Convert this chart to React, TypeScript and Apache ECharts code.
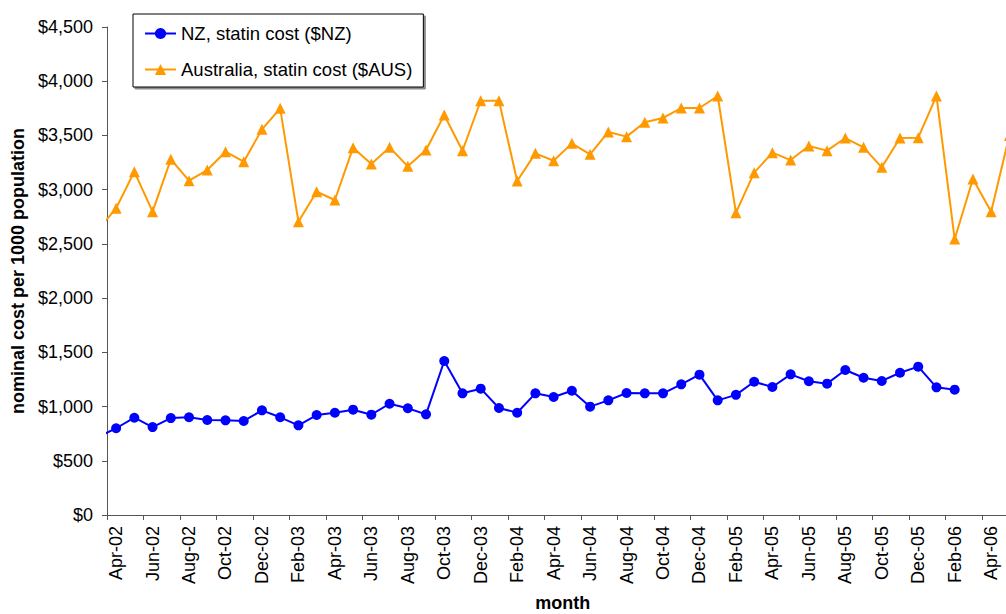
import React, { useEffect, useRef } from "react";
import * as echarts from "echarts";

// Months from Mar-02 (partly off the left edge of the axis) to May-06
const monthLabels = [
  "Mar-02", "Apr-02", "May-02", "Jun-02", "Jul-02", "Aug-02", "Sep-02", "Oct-02", "Nov-02", "Dec-02",
  "Jan-03", "Feb-03", "Mar-03", "Apr-03", "May-03", "Jun-03", "Jul-03", "Aug-03", "Sep-03", "Oct-03", "Nov-03", "Dec-03",
  "Jan-04", "Feb-04", "Mar-04", "Apr-04", "May-04", "Jun-04", "Jul-04", "Aug-04", "Sep-04", "Oct-04", "Nov-04", "Dec-04",
  "Jan-05", "Feb-05", "Mar-05", "Apr-05", "May-05", "Jun-05", "Jul-05", "Aug-05", "Sep-05", "Oct-05", "Nov-05", "Dec-05",
  "Jan-06", "Feb-06", "Mar-06", "Apr-06", "May-06",
];

const nzCost = [
  720, 800, 897, 811, 894, 901, 876, 873, 867, 965,
  901, 827, 922, 943, 971, 925, 1026, 984, 928, 1420, 1122, 1165,
  987, 943, 1122, 1088, 1146, 999, 1057, 1125, 1122, 1122, 1205, 1294,
  1057, 1108, 1229, 1180, 1297, 1233, 1211, 1337, 1266, 1236, 1312, 1368,
  1177, 1156,
];

const ausCost = [
  2630, 2828, 3166, 2797, 3280, 3083, 3181, 3350, 3258, 3556,
  3750, 2705, 2981, 2905, 3387, 3237, 3390, 3215, 3366, 3688, 3359, 3820,
  3820, 3080, 3335, 3267, 3427, 3326, 3532, 3489, 3621, 3661, 3753, 3753,
  3864, 2788, 3157, 3341, 3273, 3403, 3360, 3476, 3390, 3206, 3476, 3479,
  3864, 2545, 3098, 2797, 3500,
];

const seriesNames = ["NZ, statin cost ($NZ)", "Australia, statin cost ($AUS)"];
const yTicks = { min: 0, max: 4500, step: 500 };

const FONT = "'Liberation Sans', Arial, Helvetica, sans-serif";
const AXIS_COLOR = "#555";

export default function App() {
  const ref = useRef<HTMLDivElement>(null);

  useEffect(() => {
    document.body.style.margin = "0";
    document.body.style.overflow = "hidden";
    if (!ref.current) return;
    const chart = echarts.init(ref.current, undefined, { renderer: "svg" });

    // x coordinate: Apr-02 = 0 (monthLabels index - 1)
    const toPoints = (arr: number[]) => arr.map((v, i) => [i - 1, v]);
    const xMin = -0.5;
    const xMax = 49.5;

    chart.setOption({
      animation: false,
      backgroundColor: "#fff",
      grid: {
        left: 107,
        top: 27,
        right: 11.5,
        bottom: 99,
        containLabel: false,
        outerBoundsMode: "none",
      },
      legend: {
        orient: "vertical",
        left: 133,
        top: 14,
        padding: [10, 11, 8, 11],
        itemWidth: 31,
        itemHeight: 14,
        itemGap: 17,
        borderColor: "#000",
        borderWidth: 1,
        backgroundColor: "#fff",
        shadowColor: "rgba(0,0,0,0.45)",
        shadowOffsetX: 2,
        shadowOffsetY: 2,
        shadowBlur: 0,
        textStyle: { fontSize: 18.5, color: "#000", fontFamily: FONT },
        data: seriesNames,
      },
      xAxis: [
        {
          type: "value",
          min: xMin,
          max: xMax,
          interval: 2,
          position: "bottom",
          name: "month",
          nameLocation: "middle",
          nameGap: 79,
          nameTextStyle: { fontSize: 18, fontWeight: "bold", color: "#000", fontFamily: FONT },
          axisLine: { show: true, onZero: false, lineStyle: { color: AXIS_COLOR, width: 1 } },
          axisTick: { show: true, length: 5, lineStyle: { color: AXIS_COLOR } },
          axisLabel: { show: false },
          splitLine: { show: false },
        },
        {
          type: "value",
          min: xMin,
          max: xMax,
          interval: 0.5,
          position: "bottom",
          axisLine: { show: false, onZero: false },
          axisTick: { show: false },
          splitLine: { show: false },
          axisLabel: {
            rotate: 90,
            margin: 11,
            fontSize: 18,
            color: "#000",
            fontFamily: FONT,
            showMinLabel: true,
            showMaxLabel: true,
            formatter: (v: number) => {
              const h = Math.round(v * 2);
              if (h % 4 !== 0) return "";
              const m = h / 2;
              const label = monthLabels[m + 1];
              return label ?? "";
            },
          },
        },
      ],
      yAxis: {
        type: "value",
        min: yTicks.min,
        max: yTicks.max,
        interval: yTicks.step,
        name: "nominal cost per 1000 population",
        nameLocation: "middle",
        nameGap: 79,
        nameTextStyle: { fontSize: 18, fontWeight: "bold", color: "#000", fontFamily: FONT },
        axisLine: { show: true, onZero: false, lineStyle: { color: AXIS_COLOR, width: 1 } },
        axisTick: { show: true, length: 5, lineStyle: { color: AXIS_COLOR } },
        axisLabel: {
          margin: 14,
          fontSize: 18,
          color: "#000",
          fontFamily: FONT,
          formatter: (v: number) => "$" + v.toLocaleString("en-US"),
        },
        splitLine: { show: false },
      },
      series: [
        {
          name: seriesNames[0],
          type: "line",
          xAxisIndex: 0,
          data: toPoints(nzCost),
          symbol: "circle",
          symbolSize: 10,
          clip: true,
          lineStyle: { color: "#0000ff", width: 2 },
          itemStyle: { color: "#0000ff" },
        },
        {
          name: seriesNames[1],
          type: "line",
          xAxisIndex: 0,
          data: toPoints(ausCost),
          symbol: "triangle",
          symbolSize: 11,
          clip: true,
          lineStyle: { color: "#ff9900", width: 2 },
          itemStyle: { color: "#ff9900" },
        },
      ],
    });

    return () => chart.dispose();
  }, []);

  return <div ref={ref} style={{ width: 1030, height: 614 }} />;
}
